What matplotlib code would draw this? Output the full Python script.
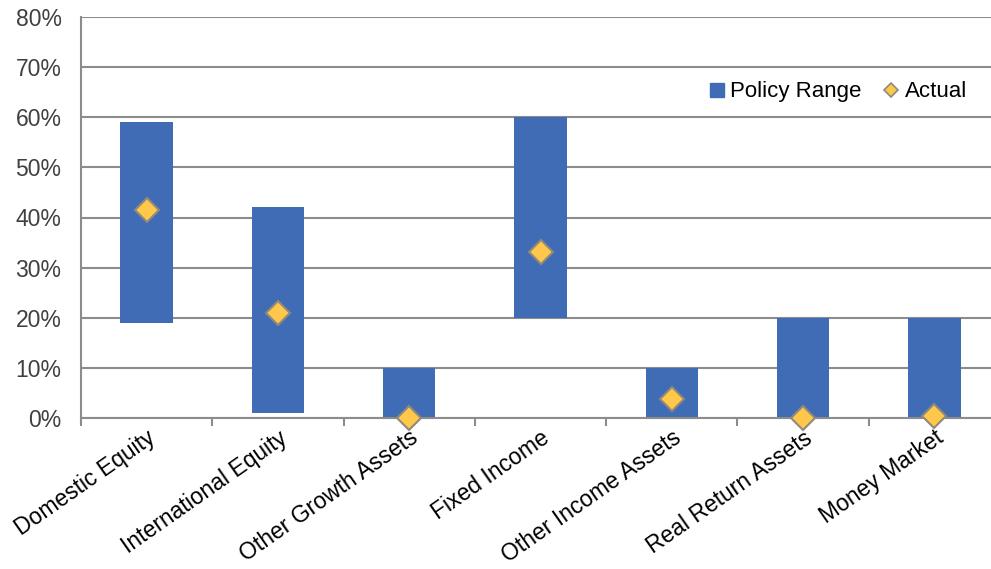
import matplotlib.pyplot as plt
from matplotlib.lines import Line2D
import numpy as np

plt.rcParams['font.family'] = ['Liberation Sans', 'DejaVu Sans']

# Asset classes and policy ranges (%)
CATEGORIES = ["Domestic Equity", "International Equity", "Other Growth Assets",
              "Fixed Income", "Other Income Assets", "Real Return Assets",
              "Money Market"]
RANGE_LOW = [19, 1, 0, 20, 0, 0, 0]
RANGE_HIGH = [59, 42, 10, 60, 10, 20, 20]
ACTUAL = [41.5, 21, 0, 33.2, 3.8, 0, 0.4]
Y_TICKS = [0, 10, 20, 30, 40, 50, 60, 70, 80]

BAR_COLOR = '#3F6CB5'
DIAMOND_COLOR = '#FFC84A'
DIAMOND_EDGE = '#8F8A7C'
GRID_COLOR = '#8C8C8C'


def plot_policy_ranges():
    fig = plt.figure(figsize=(9.91, 5.69), dpi=100)
    # axes runs a little past the right edge, like the original
    ax = fig.add_axes([81 / 991, 151 / 569, 919 / 991, 401 / 569])

    x = np.arange(len(CATEGORIES))
    heights = [h - l for l, h in zip(RANGE_LOW, RANGE_HIGH)]
    ax.bar(x, heights, bottom=RANGE_LOW, width=0.4, color=BAR_COLOR, zorder=2)
    ax.plot(x, ACTUAL, linestyle='none', marker='D', markersize=12,
            markerfacecolor=DIAMOND_COLOR, markeredgecolor=DIAMOND_EDGE,
            markeredgewidth=1.5, zorder=3, clip_on=False)

    ax.set_xlim(-0.5, len(CATEGORIES) - 0.5)
    ax.set_ylim(0, 80)
    ax.set_yticks(Y_TICKS)
    ax.set_yticklabels([f"{v}%" for v in Y_TICKS])
    ax.grid(True, axis='y', color=GRID_COLOR, linewidth=1.5, zorder=0)

    # category labels centred, tick marks between categories
    ax.set_xticks(x)
    ax.set_xticklabels(CATEGORIES, rotation=35, ha='right', va='top',
                       rotation_mode='anchor', fontsize=16.5)
    ax.set_xticks(np.arange(len(CATEGORIES) + 1) - 0.5, minor=True)
    ax.tick_params(axis='x', which='major', length=0, pad=6)
    ax.tick_params(axis='x', which='minor', length=6, width=1.5,
                   color=GRID_COLOR)
    ax.tick_params(axis='y', length=0, labelsize=16.5, pad=14,
                   labelcolor='#404040')

    for side in ['top', 'right']:
        ax.spines[side].set_visible(False)
    for side in ['left', 'bottom']:
        ax.spines[side].set_color(GRID_COLOR)
        ax.spines[side].set_linewidth(1.5)

    handles = [
        Line2D([], [], linestyle='none', marker='s', markersize=10,
               color=BAR_COLOR),
        Line2D([], [], linestyle='none', marker='D', markersize=7,
               markerfacecolor=DIAMOND_COLOR, markeredgecolor=DIAMOND_EDGE,
               markeredgewidth=1.2),
    ]
    fig.legend(handles, ['Policy Range', 'Actual'], loc='center left',
               bbox_to_anchor=(689 / 991, 1 - 92 / 569), ncol=2, frameon=False,
               fontsize=16, handlelength=0.7, handletextpad=0.25,
               columnspacing=1.0)

    fig.savefig('out.png', dpi=100)


if __name__ == "__main__":
    plot_policy_ranges()
